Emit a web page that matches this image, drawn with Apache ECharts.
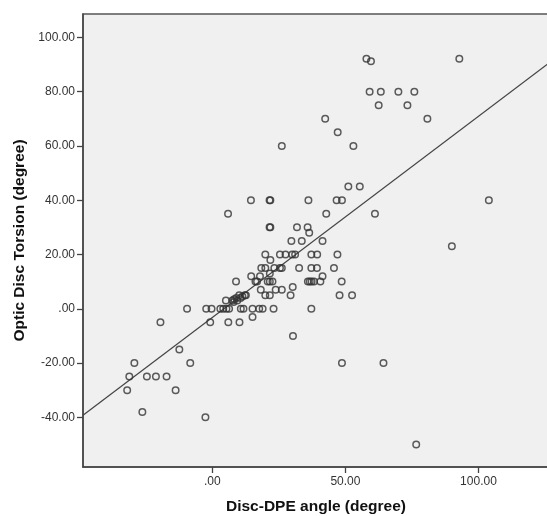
<!DOCTYPE html>
<html>
<head>
<meta charset="utf-8">
<script src="https://cdn.jsdelivr.net/npm/echarts@6/dist/echarts.min.js"></script>
<style>
html,body{margin:0;padding:0;background:#fff;}
#chart{width:547px;height:516px;}
</style>
</head>
<body>
<div id="chart"></div>
<script>
// Disc-DPE angle (x) values
const discDpeAngle = [
  57.9, 59.6, 92.8,
  59.1, 63.3, 69.9, 75.9,
  62.5, 73.3,
  42.4, 80.8,
  47.1,
  26.1, 53.0,
  51.1, 55.4,
  14.5, 21.5, 21.8, 36.1, 46.7, 48.7, 103.9,
  5.9, 42.8, 61.1,
  21.5, 21.8, 31.8, 35.8,
  36.4,
  29.7, 33.6, 41.4,
  90.0,
  19.9, 25.4, 27.5, 30.0, 31.1, 37.2, 39.4, 47.0,
  21.8,
  18.4, 19.9, 23.3, 25.4, 26.1, 32.6, 37.2, 39.3, 45.7,
  14.6, 17.9, 41.4, 21.6,
  8.9, 16.2, 16.8, 20.8, 21.6, 22.6, 35.9, 36.6, 37.3, 38.2, 40.6, 48.6,
  30.2,
  18.2, 23.8, 26.1,
  10.1, 12.6, 19.9, 21.6, 29.4, 47.8, 52.5,
  5.1, 7.5, 8.2, 9.4, 10.6, 11.3, 12.2, 8.0, 9.0,
  -9.5, -2.3, -0.3, 3.0, 4.1, 5.3, 6.3, 10.7, 11.7, 15.1, 17.6, 18.9, 23.0, 37.2,
  15.1,
  -19.5, -0.8, 6.0, 10.2,
  30.3,
  -12.4,
  -29.3, -8.3, 48.7, 64.3,
  -31.2, -24.6, -21.2, -17.2,
  -32.0, -13.8,
  -26.3, -2.6, 76.6
];
// Optic Disc Torsion (y) values
const opticDiscTorsion = [
  92.1, 91.2, 92.1,
  80, 80, 80, 80,
  75, 75,
  70, 70,
  65,
  60, 60,
  45, 45,
  40, 40, 40, 40, 40, 40, 40,
  35, 35, 35,
  30, 30, 30, 30,
  28,
  25, 25, 25,
  23,
  20, 20, 20, 20, 20, 20, 20, 20,
  18,
  15, 15, 15, 15, 15, 15, 15, 15, 15,
  12, 12, 12, 13,
  10, 10, 10, 10, 10, 10, 10, 10, 10, 10, 10, 10,
  8,
  7, 7, 7,
  5, 5, 5, 5, 5, 5, 5,
  3, 3, 3.5, 3, 4, 4.5, 5, 2.5, 4,
  0, 0, 0, 0, 0, 0, 0, 0, 0, 0, 0, 0, 0, 0,
  -3,
  -5, -5, -5, -5,
  -10,
  -15,
  -20, -20, -20, -20,
  -25, -25, -25, -25,
  -30, -30,
  -38, -40, -50
];
// Fit line coefficients
const fitIntercept = -3.2;
const fitSlope = 0.741;
// Tick values
const xTicks = [0, 50, 100];
const yTicks = [-40, -20, 0, 20, 40, 60, 80, 100];

const X_MIN = -48.6, X_MAX = 126.5, Y_MIN = -58.3, Y_MAX = 108.6;

const points = discDpeAngle.map((x, i) => [x, opticDiscTorsion[i]]);
const fitLine = [X_MIN, X_MAX].map(x => [x, fitIntercept + fitSlope * x]);

function fmt(v) {
  if (v === 0) return '.00';
  return v.toFixed(2);
}

const chart = echarts.init(document.getElementById('chart'), null, {renderer: 'canvas'});
chart.setOption({
  animation: false,
  backgroundColor: '#ffffff',
  grid: {
    left: 83, top: 14, width: 466, height: 453,
    containLabel: false, outerBoundsMode: 'none',
    show: true, backgroundColor: '#f0f0f0',
    borderColor: '#555', borderWidth: 1.5
  },
  xAxis: {
    type: 'value', min: X_MIN, max: X_MAX,
    name: 'Disc-DPE angle (degree)', nameLocation: 'middle', nameGap: 32,
    nameTextStyle: {fontFamily: 'Liberation Sans', fontWeight: 'bold', fontSize: 15.5, color: '#111'},
    axisLine: {show: true, onZero: false, lineStyle: {color: '#444', width: 1.5}},
    axisTick: {show: true, length: 6, customValues: xTicks, lineStyle: {color: '#444', width: 1.3}},
    axisLabel: {customValues: xTicks, formatter: fmt, margin: 9,
      fontFamily: 'Liberation Sans', fontSize: 12, color: '#333'},
    splitLine: {show: false}
  },
  yAxis: {
    type: 'value', min: Y_MIN, max: Y_MAX,
    name: 'Optic Disc Torsion (degree)', nameLocation: 'middle', nameGap: 54,
    nameTextStyle: {fontFamily: 'Liberation Sans', fontWeight: 'bold', fontSize: 15.5, color: '#111'},
    axisLine: {show: true, onZero: false, lineStyle: {color: '#444', width: 1.5}},
    axisTick: {show: true, length: 6, customValues: yTicks, lineStyle: {color: '#444', width: 1.3}},
    axisLabel: {customValues: yTicks, formatter: fmt, margin: 8,
      fontFamily: 'Liberation Sans', fontSize: 12, color: '#333'},
    splitLine: {show: false}
  },
  series: [
    {
      type: 'line', data: fitLine, showSymbol: false, silent: true,
      lineStyle: {color: '#444', width: 1.2}, z: 1
    },
    {
      type: 'scatter', data: points, symbol: 'circle', symbolSize: 6.5,
      itemStyle: {color: 'rgba(0,0,0,0)', borderColor: '#333', borderWidth: 1.5},
      z: 2
    }
  ]
});
</script>
</body>
</html>
